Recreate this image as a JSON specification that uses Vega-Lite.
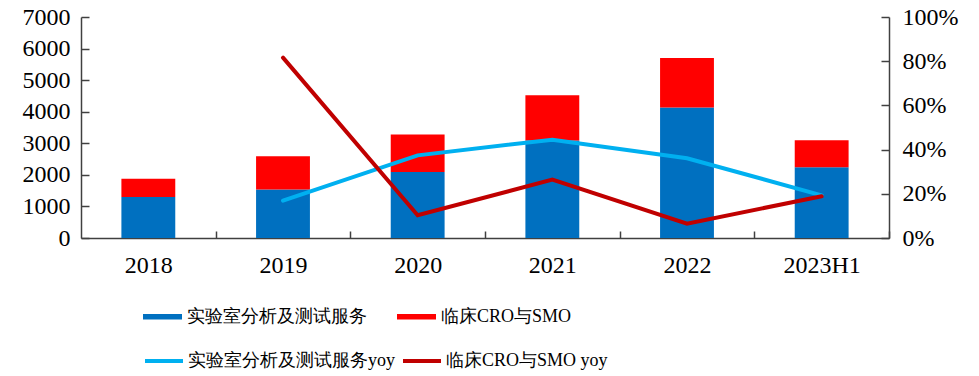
{
  "$schema": "https://vega.github.io/schema/vega-lite/v6.json",
  "width": 808,
  "height": 221,
  "autosize": {"type": "none"},
  "padding": {"left": 81, "top": 17, "right": 90, "bottom": 138},
  "config": {
    "view": {"stroke": null},
    "font": "Liberation Serif",
    "axis": {
      "domainColor": "#404040",
      "domainWidth": 1.5,
      "tickColor": "#404040",
      "tickWidth": 1.5,
      "ticks": true,
      "grid": false,
      "labelFont": "Liberation Serif",
      "labelFontSize": 24,
      "labelColor": "#000000",
      "title": null
    },
    "legend": {
      "labelFont": "Liberation Serif",
      "labelFontSize": 18,
      "labelColor": "#000000",
      "labelLimit": 500,
      "padding": 0,
      "title": null
    }
  },
  "datasets": {
    "bars": [
      {"year": "2018", "series": "实验室分析及测试服务", "value": 1300},
      {"year": "2018", "series": "临床CRO与SMO", "value": 580},
      {"year": "2019", "series": "实验室分析及测试服务", "value": 1533},
      {"year": "2019", "series": "临床CRO与SMO", "value": 1055},
      {"year": "2020", "series": "实验室分析及测试服务", "value": 2091},
      {"year": "2020", "series": "临床CRO与SMO", "value": 1184},
      {"year": "2021", "series": "实验室分析及测试服务", "value": 3090},
      {"year": "2021", "series": "临床CRO与SMO", "value": 1430},
      {"year": "2022", "series": "实验室分析及测试服务", "value": 4130},
      {"year": "2022", "series": "临床CRO与SMO", "value": 1572},
      {"year": "2023H1", "series": "实验室分析及测试服务", "value": 2240},
      {"year": "2023H1", "series": "临床CRO与SMO", "value": 855}
    ],
    "lines": [
      {"year": "2019", "series": "实验室分析及测试服务yoy", "yoy": 0.169},
      {"year": "2020", "series": "实验室分析及测试服务yoy", "yoy": 0.374},
      {"year": "2021", "series": "实验室分析及测试服务yoy", "yoy": 0.445},
      {"year": "2022", "series": "实验室分析及测试服务yoy", "yoy": 0.361},
      {"year": "2023H1", "series": "实验室分析及测试服务yoy", "yoy": 0.193},
      {"year": "2019", "series": "临床CRO与SMO yoy", "yoy": 0.816},
      {"year": "2020", "series": "临床CRO与SMO yoy", "yoy": 0.103},
      {"year": "2021", "series": "临床CRO与SMO yoy", "yoy": 0.264},
      {"year": "2022", "series": "临床CRO与SMO yoy", "yoy": 0.065},
      {"year": "2023H1", "series": "临床CRO与SMO yoy", "yoy": 0.189}
    ]
  },
  "layer": [
    {
      "data": {"name": "bars"},
      "mark": {"type": "bar"},
      "encoding": {
        "x": {
          "field": "year",
          "type": "nominal",
          "sort": null,
          "scale": {"domain": ["2018", "2019", "2020", "2021", "2022", "2023H1"], "paddingInner": 0.6, "paddingOuter": 0.3},
          "axis": {"ticks": true, "tickBand": "center", "tickOffset": 67.33, "labelOffset": -67.33, "tickSize": -7, "labelPadding": 22, "labelAngle": 0}
        },
        "y": {
          "field": "value",
          "type": "quantitative",
          "stack": "zero",
          "scale": {"domain": [0, 7000], "nice": false},
          "axis": {"orient": "left", "format": "d", "values": [0, 1000, 2000, 3000, 4000, 5000, 6000, 7000], "tickSize": -8, "labelPadding": 19}
        },
        "color": {
          "field": "series",
          "type": "nominal",
          "scale": {"domain": ["实验室分析及测试服务", "临床CRO与SMO"], "range": ["#0070C0", "#FF0000"]},
          "legend": {
            "orient": "none",
            "legendX": 62,
            "legendY": 280,
            "direction": "horizontal",
            "columns": 2,
            "columnPadding": 30,
            "symbolType": "M-1,-0.14H1V0.14H-1Z",
            "symbolSize": 1521,
            "symbolStrokeWidth": 0,
            "labelOffset": 5
          }
        },
        "order": {"field": "series", "sort": "descending"}
      }
    },
    {
      "data": {"name": "lines"},
      "mark": {"type": "line", "strokeWidth": 4, "strokeCap": "round"},
      "encoding": {
        "x": {"field": "year", "type": "nominal", "sort": null},
        "y": {
          "field": "yoy",
          "type": "quantitative",
          "scale": {"domain": [0, 1], "nice": false},
          "axis": {"orient": "right", "format": ".0%", "values": [0, 0.2, 0.4, 0.6, 0.8, 1], "tickSize": -8, "labelPadding": 21}
        },
        "stroke": {
          "field": "series",
          "type": "nominal",
          "scale": {"domain": ["实验室分析及测试服务yoy", "临床CRO与SMO yoy"], "range": ["#00B0F0", "#C00000"]},
          "legend": {
            "orient": "none",
            "legendX": 62,
            "legendY": 323,
            "direction": "horizontal",
            "columns": 2,
            "columnPadding": 0,
            "symbolType": "stroke",
            "symbolSize": 1444,
            "symbolStrokeWidth": 4,
            "labelOffset": 3
          }
        }
      }
    }
  ],
  "resolve": {"scale": {"y": "independent"}}
}
